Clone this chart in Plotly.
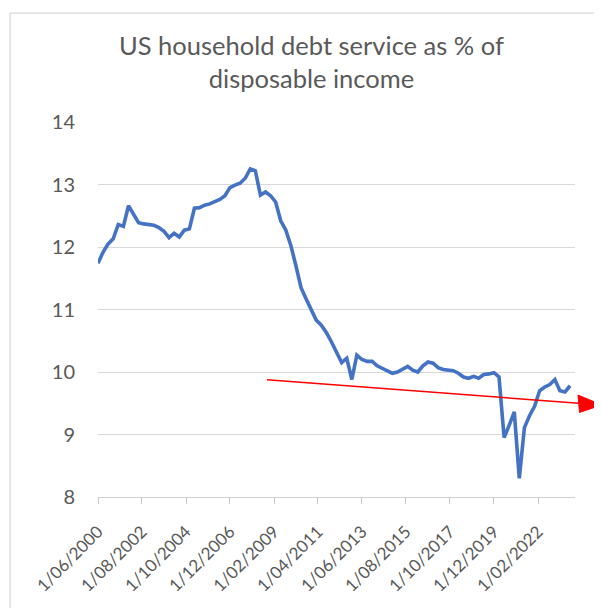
import pandas as pd
import plotly.graph_objects as go

# ---- data (quarterly) ----
start_date = "2000-06-01"
debt_service = [
    11.74, 11.92, 12.05, 12.13, 12.36, 12.33, 12.66, 12.52, 12.39, 12.37,
    12.36, 12.35, 12.31, 12.25, 12.15, 12.22, 12.16, 12.27, 12.29, 12.62,
    12.63, 12.67, 12.69, 12.72, 12.76, 12.82, 12.95, 12.99, 13.02, 13.10,
    13.25, 13.22, 12.83, 12.88, 12.82, 12.72, 12.42, 12.27, 12.02, 11.70,
    11.35, 11.17, 11.00, 10.83, 10.75, 10.63, 10.48, 10.30, 10.15, 10.22,
    9.88, 10.27, 10.20, 10.17, 10.17, 10.10, 10.06, 10.03, 9.98, 10.00,
    10.04, 10.09, 10.03, 10.00, 10.10, 10.16, 10.14, 10.07, 10.04, 10.03,
    10.02, 9.98, 9.92, 9.90, 9.93, 9.90, 9.96, 9.97, 9.99, 9.92,
    8.95, 9.15, 9.36, 8.30, 9.11, 9.30, 9.45, 9.70, 9.76, 9.80,
    9.88, 9.70, 9.68, 9.78,
]
dates = pd.date_range(start_date, periods=len(debt_service), freq="3MS")

tick_dates = ["2000-06-01", "2002-08-01", "2004-10-01", "2006-12-01",
              "2009-02-01", "2011-04-01", "2013-06-01", "2015-08-01",
              "2017-10-01", "2019-12-01", "2022-02-01"]
y_ticks = [8, 9, 10, 11, 12, 13, 14]

title_text = "US household debt service as % of<br>disposable income"

# ---- layout geometry (page pixels; page body has an 8px margin) ----
OFF = 8
W, H = 602 - OFF, 608 - OFF
L, R, T, B = 98 - OFF, 575 - OFF, 122 - OFF, 501 - OFF


def px2x(px):
    return (px - OFF - L) / (R - L)


def py2y(py):
    return (B - (py - OFF)) / (B - T)


FONT = "Lato"
GRAY = "#595959"

fig = go.Figure()
fig.add_trace(go.Scatter(
    x=dates, y=debt_service, mode="lines",
    line=dict(color="#4472C4", width=3.6),
    hoverinfo="skip", showlegend=False,
))

fig.update_layout(
    width=W, height=H,
    margin=dict(l=L, r=W - R, t=T, b=H - B, pad=0),
    paper_bgcolor="white", plot_bgcolor="white",
    font=dict(family=FONT, color=GRAY),
    showlegend=False,
    xaxis=dict(
        type="date",
        range=["2000-06-01", "2023-11-28"],
        tickvals=tick_dates,
        tickformat="%-d/%m/%Y",
        tickangle=-45,
        tickfont=dict(size=17, color=GRAY, family=FONT),
        showgrid=False,
        showline=True, linecolor="#d0d0d0", linewidth=1.3,
        ticks="outside", ticklen=6, tickcolor="#c8c8c8", tickwidth=1.3,
        ticklabelstandoff=11,
        zeroline=False,
    ),
    yaxis=dict(
        range=[8, 14],
        tickvals=y_ticks,
        tickfont=dict(size=20, color=GRAY, family=FONT),
        showgrid=True, gridcolor="#d9d9d9", gridwidth=1.3,
        showline=False, zeroline=False,
        ticks="", ticklabelstandoff=22,
    ),
    annotations=[dict(
        text=title_text, xref="paper", yref="paper",
        x=px2x(311), y=py2y(27), xanchor="center", yanchor="top",
        showarrow=False, align="center",
        font=dict(size=25.5, color=GRAY, family=FONT),
    )],
    shapes=[
        # chart border
        dict(type="rect", xref="paper", yref="paper",
             x0=px2x(10), y0=py2y(12), x1=px2x(640), y1=py2y(640),
             line=dict(color="#d9d9d9", width=1.2), layer="below"),
        # red trend arrow line
        dict(type="line", xref="paper", yref="paper",
             x0=px2x(267), y0=py2y(382.5), x1=px2x(582), y1=py2y(406.5),
             line=dict(color="#ff0000", width=1.5)),
        # arrow head
        dict(type="path", xref="paper", yref="paper",
             path="M {} {} L {} {} L {} {} Z".format(
                 px2x(602), py2y(408), px2x(578), py2y(398),
                 px2x(579.5), py2y(415.5)),
             fillcolor="#ff0000", line=dict(color="#ff0000", width=1)),
    ],
)

fig.write_html("out.html")
